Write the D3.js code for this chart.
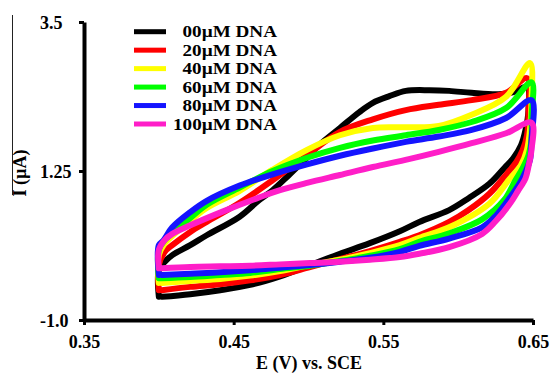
<!DOCTYPE html>
<html>
<head>
<meta charset="utf-8">
<script src="https://cdn.jsdelivr.net/npm/d3@7"></script>
<style>
  body { margin: 0; background: #fff; }
  text { font-family: "Liberation Serif", "Times New Roman", serif; font-weight: bold; fill: #000; }
</style>
</head>
<body>
<script>
const width = 553
const height = 374

// series labels and colours
const seriesNames = ['00µM DNA', '20µM DNA', '40µM DNA', '60µM DNA', '80µM DNA', '100µM DNA']
const seriesColors = ['#000000', '#ff0000', '#ffff00', '#00ff00', '#1414ff', '#ff1ec8']

// [E (V), I (µA)], one voltammogram loop per series
const dna00 = [[0.400, -0.65], [0.400, -0.25], [0.404, -0.12], [0.409, -0.02], [0.421, 0.13], [0.432, 0.28],
  [0.454, 0.56], [0.467, 0.81], [0.476, 0.96], [0.487, 1.19], [0.499, 1.45], [0.507, 1.64], [0.521, 1.90],
  [0.534, 2.14], [0.543, 2.28], [0.554, 2.38], [0.565, 2.46], [0.581, 2.47], [0.594, 2.46], [0.609, 2.43],
  [0.627, 2.41], [0.637, 2.44], [0.646, 2.52],
  [0.647, 2.17], [0.645, 1.87], [0.642, 1.64], [0.637, 1.45], [0.631, 1.30], [0.621, 1.06], [0.607, 0.84],
  [0.594, 0.66], [0.574, 0.48], [0.561, 0.34], [0.541, 0.16], [0.521, 0.00], [0.501, -0.17], [0.481, -0.34],
  [0.461, -0.47], [0.441, -0.55], [0.421, -0.61], [0.402, -0.65]]

const dna20 = [[0.400, -0.55], [0.400, -0.17], [0.404, 0.03], [0.409, 0.13], [0.421, 0.33], [0.432, 0.48],
  [0.454, 0.77], [0.476, 1.11], [0.499, 1.49], [0.521, 1.84], [0.543, 2.03], [0.565, 2.17], [0.587, 2.25],
  [0.609, 2.32], [0.632, 2.43], [0.646, 2.65],
  [0.647, 2.17], [0.646, 1.79], [0.643, 1.56], [0.639, 1.39], [0.633, 1.22], [0.621, 0.91], [0.607, 0.66],
  [0.594, 0.48], [0.574, 0.28], [0.561, 0.18], [0.541, 0.04], [0.521, -0.08], [0.501, -0.20], [0.481, -0.32],
  [0.461, -0.40], [0.441, -0.46], [0.421, -0.50], [0.402, -0.55]]

const dna40 = [[0.400, -0.44], [0.400, -0.02], [0.404, 0.16], [0.409, 0.27], [0.421, 0.50], [0.432, 0.69],
  [0.454, 0.95], [0.476, 1.27], [0.499, 1.57], [0.521, 1.79], [0.543, 1.90], [0.565, 1.91], [0.587, 1.93],
  [0.609, 2.10], [0.632, 2.37], [0.648, 2.88],
  [0.649, 2.32], [0.648, 1.87], [0.646, 1.57], [0.642, 1.34], [0.634, 1.12], [0.621, 0.76], [0.594, 0.40],
  [0.574, 0.24], [0.561, 0.13], [0.541, 0.01], [0.521, -0.09], [0.501, -0.17], [0.481, -0.26], [0.461, -0.33],
  [0.441, -0.38], [0.421, -0.41], [0.402, -0.44]]

const dna60 = [[0.400, -0.37], [0.400, 0.06], [0.404, 0.21], [0.409, 0.31], [0.421, 0.54], [0.432, 0.74],
  [0.454, 1.00], [0.476, 1.25], [0.499, 1.45], [0.521, 1.60], [0.543, 1.71], [0.565, 1.79], [0.587, 1.87],
  [0.609, 1.99], [0.632, 2.20], [0.649, 2.59],
  [0.649, 2.05], [0.649, 1.72], [0.647, 1.49], [0.643, 1.29], [0.638, 1.10], [0.631, 0.82], [0.616, 0.52],
  [0.594, 0.31], [0.574, 0.18], [0.561, 0.07], [0.541, -0.03], [0.521, -0.11], [0.501, -0.18], [0.481, -0.23],
  [0.461, -0.29], [0.441, -0.32], [0.421, -0.35], [0.402, -0.37]]

const dna80 = [[0.400, -0.32], [0.400, 0.13], [0.403, 0.20], [0.409, 0.40], [0.421, 0.63], [0.432, 0.80],
  [0.454, 1.03], [0.476, 1.20], [0.499, 1.35], [0.521, 1.48], [0.543, 1.59], [0.565, 1.69], [0.587, 1.77],
  [0.609, 1.87], [0.632, 2.05], [0.649, 2.32],
  [0.649, 1.72], [0.648, 1.42], [0.645, 1.24], [0.641, 1.06], [0.635, 0.86], [0.625, 0.57], [0.616, 0.40],
  [0.594, 0.23], [0.574, 0.12], [0.561, 0.03], [0.541, -0.06], [0.521, -0.12], [0.501, -0.17], [0.481, -0.21],
  [0.461, -0.25], [0.441, -0.28], [0.421, -0.30], [0.402, -0.32]]

const dna100 = [[0.400, -0.22], [0.400, 0.06], [0.404, 0.21], [0.409, 0.30], [0.421, 0.43], [0.443, 0.64],
  [0.467, 0.85], [0.481, 0.96], [0.499, 1.07], [0.521, 1.19], [0.543, 1.31], [0.567, 1.43], [0.587, 1.54],
  [0.609, 1.67], [0.632, 1.82], [0.649, 1.98],
  [0.649, 1.57], [0.647, 1.32], [0.645, 1.14], [0.640, 0.95], [0.635, 0.77], [0.625, 0.49], [0.616, 0.30],
  [0.594, 0.10], [0.574, 0.00], [0.561, -0.05], [0.541, -0.09], [0.521, -0.12], [0.501, -0.14], [0.481, -0.16],
  [0.461, -0.18], [0.441, -0.19], [0.421, -0.20], [0.402, -0.22]]

const seriesData = [dna00, dna20, dna40, dna60, dna80, dna100]

// axes
const xTicks = [0.35, 0.45, 0.55, 0.65]
const yTicks = [-1.0, 1.25, 3.5]
const yTickLabels = ['-1.0', '1.25', '3.5']

const svg = d3.select('body').append('svg')
  .attr('width', width)
  .attr('height', height)

const x = d3.scaleLinear().domain([0.35, 0.65]).range([84, 533])
const y = d3.scaleLinear().domain([-1.0, 3.5]).range([320, 22])

// stray frame line at left edge
svg.append('line')
  .attr('x1', 12.5).attr('x2', 12.5)
  .attr('y1', 15).attr('y2', 195)
  .attr('stroke', '#222').attr('stroke-width', 1)

const line = d3.line()
  .x(d => x(d[0]))
  .y(d => y(d[1]))
  .curve(d3.curveCatmullRom.alpha(0.5))

svg.selectAll('path.cv')
  .data(seriesData)
  .enter()
  .append('path')
  .attr('class', 'cv')
  .attr('d', d => line(d))
  .attr('fill', 'none')
  .attr('stroke', (d, i) => seriesColors[i])
  .attr('stroke-width', 6)
  .attr('stroke-linejoin', 'round')
  .attr('stroke-linecap', 'round')

const xAxis = svg.append('g')
  .attr('transform', 'translate(0,320)')
  .call(d3.axisBottom(x).tickValues(xTicks).tickSize(5).tickSizeOuter(0).tickFormat(d3.format('.2f')))
xAxis.select('.domain').attr('stroke', '#000').attr('stroke-width', 4)
xAxis.selectAll('.tick line').attr('stroke', '#000').attr('stroke-width', 3)
xAxis.selectAll('.tick text')
  .attr('y', 28)
  .attr('dy', null)
  .style('font-size', '18px')
  .style('font-family', '"Liberation Serif", serif')
  .style('font-weight', 'bold')

const yAxis = svg.append('g')
  .attr('transform', 'translate(84,0)')
  .call(d3.axisLeft(y).tickValues(yTicks).tickSize(5).tickSizeOuter(0)
    .tickFormat((d, i) => yTickLabels[i]))
yAxis.select('.domain').attr('stroke', '#000').attr('stroke-width', 4)
yAxis.selectAll('.tick line').attr('stroke', '#000').attr('stroke-width', 3)
yAxis.selectAll('.tick text')
  .attr('x', -44)
  .attr('dy', '0.35em')
  .attr('text-anchor', 'start')
  .style('font-size', '18px')
  .style('font-family', '"Liberation Serif", serif')
  .style('font-weight', 'bold')

svg.append('text')
  .attr('x', 309)
  .attr('y', 369)
  .attr('text-anchor', 'middle')
  .style('font-size', '18px')
  .text('E (V) vs. SCE')

svg.append('text')
  .attr('transform', 'translate(26,173) rotate(-90)')
  .attr('text-anchor', 'middle')
  .style('font-size', '18px')
  .text('I (µA)')

// legend
const legendY = d3.scaleLinear().domain([0, 5]).range([31.7, 124])
const legend = svg.selectAll('g.legend')
  .data(seriesNames)
  .enter()
  .append('g')
  .attr('class', 'legend')
  .attr('transform', (d, i) => `translate(0,${legendY(i)})`)
legend.append('line')
  .attr('x1', 134).attr('x2', 166)
  .attr('y1', 0).attr('y2', 0)
  .attr('stroke', (d, i) => seriesColors[i])
  .attr('stroke-width', 5)
legend.append('text')
  .attr('transform', 'translate(277,5.5) scale(1.16,1)')
  .attr('text-anchor', 'end')
  .style('font-size', '16.5px')
  .text(d => d)
</script>
</body>
</html>
